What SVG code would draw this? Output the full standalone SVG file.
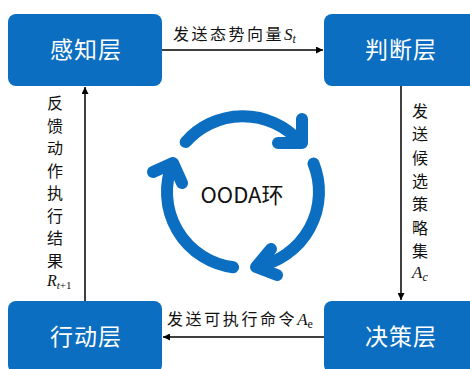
<svg xmlns="http://www.w3.org/2000/svg" width="470" height="369" viewBox="0 0 470 369">
<style>
.box{fill:#0B6EC1}
.bl{font-family:"Noto Sans CJK SC","Noto Sans",sans-serif;font-size:23px;fill:#fff;text-anchor:middle;letter-spacing:1px}
.lb{font-family:"Noto Sans CJK SC","Noto Sans",sans-serif;font-size:16px;fill:#111}
.m{font-family:"Liberation Serif",serif;font-style:italic;fill:#111}
.ln{stroke:#000;stroke-width:1.5;fill:none}
.ring{stroke:#0B6EC1;stroke-width:12;fill:none;stroke-linecap:round;stroke-linejoin:round}
</style>
<defs>
<marker id="ah" viewBox="0 0 10 10" refX="10" refY="5" markerWidth="7" markerHeight="7" markerUnits="userSpaceOnUse" orient="auto">
<path d="M0,0 L10,5 L0,10 z" fill="#000"/>
</marker>
</defs>
<rect width="470" height="369" fill="#fff"/>
<g id="connectors">
<line class="ln" x1="162" y1="50" x2="323" y2="50" marker-end="url(#ah)"/>
<line class="ln" x1="401" y1="86" x2="401" y2="300" marker-end="url(#ah)"/>
<line class="ln" x1="324" y1="337" x2="163" y2="337" marker-end="url(#ah)"/>
<line class="ln" x1="85" y1="301" x2="85" y2="87" marker-end="url(#ah)"/>
<text class="lb" x="173" y="40" letter-spacing="2.5">发送态势向量<tspan class="m" font-size="17" letter-spacing="0">S</tspan><tspan class="m" font-size="12" dy="3" letter-spacing="0">t</tspan></text>
<text class="lb" x="167" y="325" letter-spacing="2.6">发送可执行命令<tspan class="m" font-size="17" letter-spacing="0">A</tspan><tspan font-family="Liberation Serif,serif" font-size="12" dy="3" letter-spacing="0">e</tspan></text>
<g class="lb" text-anchor="middle">
<text x="55" y="109">反</text>
<text x="55" y="131.5">馈</text>
<text x="55" y="154">动</text>
<text x="55" y="176.5">作</text>
<text x="55" y="199">执</text>
<text x="55" y="221.5">行</text>
<text x="55" y="244">结</text>
<text x="55" y="266.5">果</text>
<text x="420" y="117">发</text>
<text x="420" y="140.3">送</text>
<text x="420" y="163.6">候</text>
<text x="420" y="186.9">选</text>
<text x="420" y="210.2">策</text>
<text x="420" y="233.5">略</text>
<text x="420" y="256.8">集</text>
</g>
<text class="m" x="47" y="286" font-size="16">R<tspan font-size="11" dy="3">t</tspan><tspan font-style="normal" font-size="11">+1</tspan></text>
<text class="m" x="412" y="278" font-size="17">A<tspan font-size="12" dy="3">c</tspan></text>
</g>
<g id="sense"><rect class="box" x="8" y="14" width="154" height="72" rx="8"/><text class="bl" x="86" y="58">感知层</text></g>
<g id="judge"><rect class="box" x="324" y="14" width="154" height="72" rx="8"/><text class="bl" x="401" y="58">判断层</text></g>
<g id="act"><rect class="box" x="8" y="301" width="154" height="72" rx="8"/><text class="bl" x="86" y="345">行动层</text></g>
<g id="decide"><rect class="box" x="324" y="301" width="154" height="72" rx="8"/><text class="bl" x="401" y="345">决策层</text></g>
<g id="ooda">
<path class="ring" d="M185.6,142.1 A76,76 0 0 1 299,141"/>
<polyline class="ring" points="278,143 302,143 302,119"/>
<path class="ring" d="M313.5,163.5 A76,76 0 0 1 257,266.5"/>
<polyline class="ring" points="271,249 256,267 277,275"/>
<path class="ring" d="M233.1,267.3 A76,76 0 0 1 172.5,163.5"/>
<polyline class="ring" points="153,172 173,163 182,183"/>
<text x="242" y="203" font-family="Noto Sans CJK SC,Noto Sans,sans-serif" font-size="22" text-anchor="middle" fill="#111">OODA环</text>
</g>
</svg>
